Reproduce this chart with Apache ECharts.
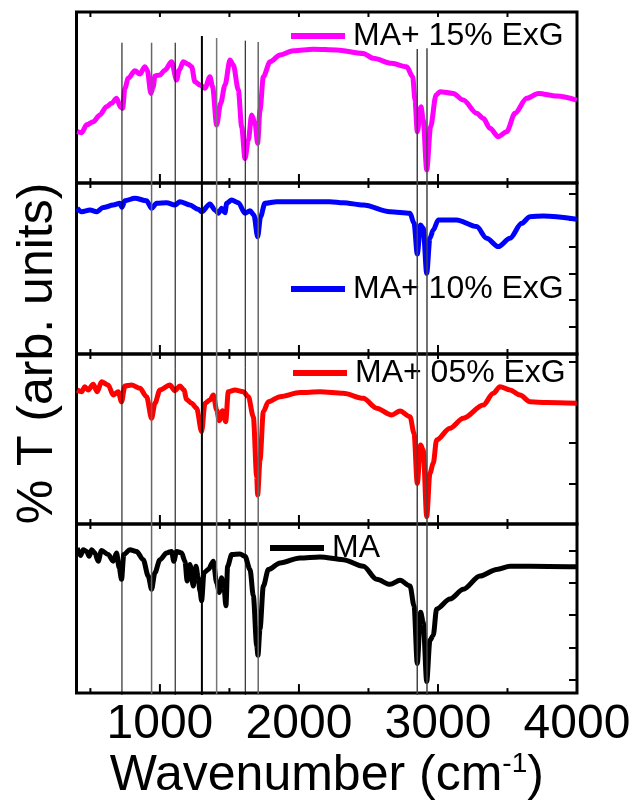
<!DOCTYPE html>
<html>
<head>
<meta charset="utf-8">
<script src="https://cdn.jsdelivr.net/npm/echarts@6/dist/echarts.min.js"></script>
<style>
html,body{margin:0;padding:0;background:#fff;}
#chart{width:636px;height:802px;}
</style>
</head>
<body>
<div id="chart"></div>
<script>
// ---------- data (wavenumber in cm^-1, transmittance in arb. units per panel) ----------
const xMajorTicks = [1000, 2000, 3000];
const xMinorTicks = [500, 1500, 2500, 3500];
const xTickLabels = [1000, 2000, 3000, 4000];

const names = ['MA+ 15% ExG', 'MA+ 10% ExG', 'MA+ 05% ExG', 'MA'];

const wave15 = [405,437,473,520,568,616,652,688,717,732,748,772,820,856,892,909,935,952,964,1000,1036,1084,1120,1139,1168,1204,1228,1252,1288,1324,1360,1379,1408,1437,1468,1504,1528,1564,1588,1612,1636,1660,1684,1703,1720,1744,1792,1864,1960,2103,2271,2463,2535,2667,2775,2818,2835,2851,2878,2894,2919,2947,2986,3014,3110,3182,3278,3326,3374,3434,3494,3554,3638,3722,3854,3998];
const trans15 = [30,29.4,34,35.8,39.8,44.6,46.6,49.5,44.3,43.7,55.4,61.2,65.7,63.7,68,66,52.4,56.3,62.6,63.2,66,70.9,60.2,66,70.9,69.4,68,59.2,57.3,55.4,62.2,56.3,33.9,46.6,57.3,71.9,69,54.4,32.9,14.4,25.1,39.8,34.9,23.2,42.7,62.2,70.9,74.9,77.4,78.2,77.8,75.8,72.9,70,68,62.2,48.5,30,44.6,36.8,7.6,32.9,51.5,53.4,52.4,48.5,40.8,37.8,32,27.1,30,40.8,49.5,52.4,50.9,48.5];

const wave10 = [405,437,497,545,592,664,712,727,748,820,904,940,976,1048,1108,1144,1216,1276,1300,1360,1396,1420,1444,1468,1480,1516,1564,1612,1648,1676,1703,1724,1755,1840,2080,2223,2319,2463,2655,2799,2828,2851,2875,2894,2919,2942,2966,3002,3134,3278,3350,3434,3518,3602,3662,3758,3998];
const trans10 = [85.2,83.2,84.2,83.2,85.6,87.1,88.1,85.8,89.6,91.1,89.6,85.2,88.1,88.5,87.1,89.1,87.1,84.6,83.2,87.7,84.2,82.3,85.2,82.6,88.1,90.1,88.5,82.3,83.8,81.3,68.6,80.3,88.1,89.1,89.1,89.1,88.5,87.1,83.2,82.3,76.4,58.5,75.4,73.5,47.2,67.7,72.5,78.4,78.4,74.5,67.7,62.8,67.7,76.4,80.3,80.7,78.8];

const wave05 = [405,437,460,484,520,549,580,628,664,700,724,748,796,856,904,940,964,1000,1072,1108,1144,1173,1192,1228,1264,1300,1324,1360,1384,1408,1427,1451,1473,1492,1540,1600,1636,1672,1696,1703,1720,1744,1780,1864,2007,2151,2319,2463,2559,2667,2727,2799,2828,2851,2875,2894,2919,2942,2966,2990,3086,3182,3326,3398,3446,3518,3590,3662,3782,3998];
const trans05 = [78.8,77.8,80.8,78.8,82.2,77.8,83.7,81.8,75.9,77.8,71.9,81.2,81.8,79.8,74.9,62.2,71,78.8,81.8,78.4,81.2,78.8,73.3,71,68.1,54.3,71,72.9,75.9,67.1,60.8,66.6,60.2,77.8,78.8,77.8,74.9,63.1,27.8,17.1,37.6,66.1,71.9,74.9,77.3,77.8,76.9,73.9,68.1,64.1,66.5,63.1,53.3,23.9,46.5,43.5,4.3,29.8,35.7,49.4,56.3,62.2,70,76.9,80.8,78.8,75.9,71.9,71.4,71];

const waveMA = [405,430,448,473,491,509,532,556,580,628,664,688,707,724,740,784,832,880,916,940,964,1000,1048,1084,1100,1120,1156,1180,1196,1216,1240,1259,1276,1288,1300,1317,1348,1384,1408,1427,1444,1460,1475,1487,1516,1576,1612,1648,1672,1696,1705,1720,1744,1780,1864,2007,2151,2319,2463,2559,2655,2727,2799,2828,2851,2875,2894,2919,2942,2966,2990,3086,3182,3302,3422,3518,3662,3998];
const transMA = [85.8,81.3,84.8,83.8,80.9,84.8,82.9,78,84.4,81.9,78,82.9,74.1,67.3,81.9,84.8,83.8,78.9,69.2,61.4,71.2,78.9,82.9,83.8,78,83.8,82.9,78,66.3,76,63.3,75,68.2,60.4,54.6,71.2,73.1,78,65.3,59.5,68.2,63.3,51.6,75,81.9,82.3,80.9,73.1,57.5,28.2,22.4,38,63.3,73.1,77,79.9,80.5,78.9,75,67.3,64.3,66.7,63.3,51.6,17.5,47.8,41.9,6.8,31.2,34.1,49.7,55.6,61.4,69.2,73.1,75,75,74.7];

// reference band positions (cm^-1)
const refWaves = [727, 940, 1110, 1302, 1408, 1614, 1707, 2851, 2921];

// ---------- layout / style ----------
const FONT = "'Liberation Sans', Arial, Helvetica, sans-serif";
const LEFT = 76.5, RIGHT = 59;
const panelTops = [12, 183, 354, 524];
const panelHeights = [171, 171, 170, 171];
const colors = ['#ff00ff', '#0000ff', '#ff0000', '#000000'];
const rightTicks = [[], [16, 31.6, 47.2, 62.7, 78.4, 94], [23.9, 47.7, 71.6, 95.5], [7.8, 27, 46.2, 65.5, 84.4]];
const refTops = [95.5, 95.5, 95.5, 96.5, 96.2, 95.8, 95.6, 94.6, 94.7];
const refColors = ['#000', '#666', '#000', '#000', '#777', '#000', '#666', '#444', '#444'];
const refWidths = [1, 1.5, 1, 2, 1.5, 1, 1.5, 1.5, 1.5];
const legendPos = [[291, 15], [291, 268], [293, 352], [270, 527]];
const MAJOR_LEN = 9, MINOR_LEN = 5, TOP_LEN = 5;

const waves = [wave15, wave10, wave05, waveMA];
const trans = [trans15, trans10, trans05, transMA];

const grids = [], xAxes = [], yAxes = [], series = [], legends = [];
const tickStyle = () => ({color: '#000', width: 2});

for (let i = 0; i < 4; i++) {
  grids.push({left: LEFT, right: RIGHT, top: panelTops[i], height: panelHeights[i],
    show: true, borderColor: '#000', borderWidth: 3});
  const isBottom = i === 3;
  xAxes.push({
    gridIndex: i, type: 'value', min: 400, max: 4000, position: 'bottom',
    axisLine: {show: false}, splitLine: {show: false},
    axisTick: {show: false},
    axisLabel: isBottom ? {show: true, customValues: xTickLabels.slice(), formatter: v => String(v),
      fontSize: 48, fontFamily: FONT, color: '#000', margin: 8} : {show: false},
    name: isBottom ? '{a|Wavenumber (cm}{s|-1}{a|)}' : '',
    nameLocation: 'middle', nameGap: 54,
    nameTextStyle: {rich: {
      a: {fontSize: 50, fontFamily: FONT, color: '#000', lineHeight: 52},
      s: {fontSize: 28, fontFamily: FONT, color: '#000', lineHeight: 52, verticalAlign: 'top', padding: [0, 0, 22, 0]}
    }}
  });
  yAxes.push({
    gridIndex: i, type: 'value', min: 0, max: 100, position: 'right',
    axisLine: {show: false}, splitLine: {show: false}, axisLabel: {show: false},
    axisTick: rightTicks[i].length ? {show: true, inside: true, length: 8, customValues: rightTicks[i].slice(), lineStyle: tickStyle()} : {show: false}
  });
  series.push({
    name: names[i], type: 'line', xAxisIndex: i, yAxisIndex: i,
    data: waves[i].map((w, k) => [w, trans[i][k]]),
    showSymbol: false, symbol: 'none', smooth: 0.3, smoothMonotone: 'x',
    lineStyle: {color: colors[i], width: 5}, itemStyle: {color: colors[i]},
    z: 3, silent: true, animation: false
  });
  legends.push({
    data: [names[i]], left: legendPos[i][0], top: legendPos[i][1], padding: 0,
    icon: 'rect', itemWidth: 54, itemHeight: 6, selectedMode: false,
    textStyle: {fontSize: 32, fontFamily: FONT, color: '#000', lineHeight: 36, padding: [0, 0, 6, 3]}
  });
}

// overlay grid for the reference lines and the shared y title
grids.push({left: LEFT, right: RIGHT, top: 12, height: 683, show: false});
xAxes.push({gridIndex: 4, type: 'value', min: 400, max: 4000, show: false});
yAxes.push({
  gridIndex: 4, type: 'value', min: 0, max: 100, position: 'left',
  axisLine: {show: false}, axisTick: {show: false}, axisLabel: {show: false}, splitLine: {show: false},
  name: '% T (arb. units)', nameLocation: 'middle', nameGap: 13,
  nameTextStyle: {fontSize: 50, fontFamily: FONT, color: '#000'}
});
refWaves.forEach((w, k) => {
  series.push({
    type: 'line', xAxisIndex: 4, yAxisIndex: 4,
    data: [[w, 0], [w, refTops[k]]],
    showSymbol: false, symbol: 'none',
    lineStyle: {color: refColors[k], width: refWidths[k]},
    z: 5, silent: true, animation: false
  });
});

const chart = echarts.init(document.getElementById('chart'), null, {renderer: 'canvas'});
chart.setOption({
  backgroundColor: '#fff',
  animation: false,
  grid: grids, xAxis: xAxes, yAxis: yAxes, series: series, legend: legends
});

// inward x ticks on the top and bottom edges of each panel, placed through the axis scales
const tickMarks = [];
function tickLine(x, y1, y2) {
  return {type: 'line', silent: true, z: 100,
    shape: {x1: x, y1: y1, x2: x, y2: y2}, style: {stroke: '#000', lineWidth: 2}};
}
for (let i = 0; i < 4; i++) {
  const yBottom = chart.convertToPixel({yAxisIndex: i}, 0);
  const yTop = chart.convertToPixel({yAxisIndex: i}, 100);
  xMajorTicks.forEach(v => {
    const x = chart.convertToPixel({xAxisIndex: i}, v);
    tickMarks.push(tickLine(x, yBottom, yBottom - MAJOR_LEN));
    tickMarks.push(tickLine(x, yTop, yTop + TOP_LEN));
  });
  xMinorTicks.forEach(v => {
    const x = chart.convertToPixel({xAxisIndex: i}, v);
    tickMarks.push(tickLine(x, yBottom, yBottom - MINOR_LEN));
    tickMarks.push(tickLine(x, yTop, yTop + TOP_LEN));
  });
}
chart.setOption({graphic: tickMarks});
</script>
</body>
</html>
